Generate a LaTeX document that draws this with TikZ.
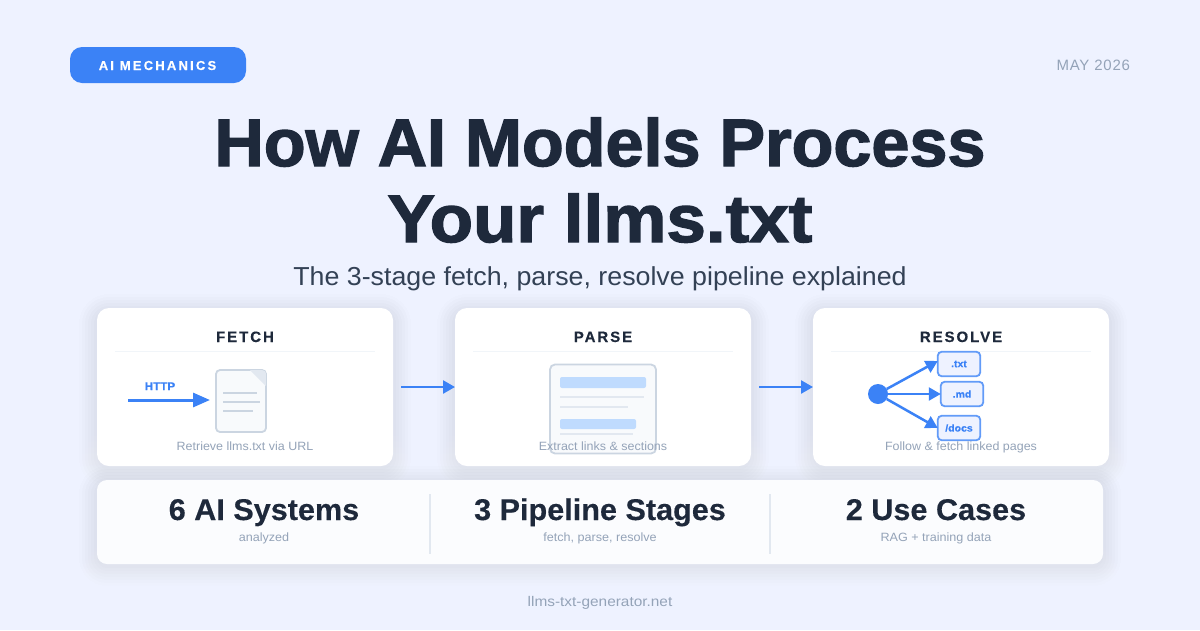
\documentclass[tikz,border=0pt]{standalone}
\usepackage{fontspec}
\setmainfont{Liberation Sans}[BoldFeatures={FakeBold=0.3}]
\newfontfamily\heavy{Liberation Sans}[BoldFeatures={FakeBold=2}]
\usetikzlibrary{arrows.meta}
\definecolor{bgc}{HTML}{EEF2FF}
\definecolor{blue}{HTML}{3B82F6}
\definecolor{ink}{HTML}{1E293B}
\definecolor{subink}{HTML}{334155}
\definecolor{muted}{HTML}{94A3B8}
\definecolor{rule}{HTML}{F1F5F9}
\definecolor{slateline}{HTML}{CBD5E1}
\definecolor{lightline}{HTML}{E2E8F0}
\definecolor{paper}{HTML}{F8FAFC}
\definecolor{barblue}{HTML}{BFDBFE}
\definecolor{shade}{HTML}{263A80}
\definecolor{statfill}{HTML}{FBFCFE}
\newcommand{\fs}[1]{\fontsize{#1}{#1}\selectfont}
\newcommand{\softshadow}[5]{%
  \foreach \g/\o in {18/0.005,15/0.006,12/0.006,9/0.007,6/0.007,3/0.007,0/0.007}{%
    \fill[shade,opacity=\o,rounded corners=#5+\g]
      (#1-\g,#2+4-\g) rectangle (#3+\g,#4+4+\g);}}
\tikzset{
  x=1pt,y=-1pt,
  txt/.style={inner sep=0,outer sep=0,anchor=base},
  title/.style={txt,ink,font=\heavy\bfseries\fs{67}\addfontfeature{FakeStretch=1.02}},
  titlewide/.style={txt,ink,font=\heavy\bfseries\fs{67}\addfontfeature{FakeStretch=1.06}},
  cardhead/.style={txt,ink,font=\bfseries\fs{15}\addfontfeature{LetterSpace=13}},
  caption/.style={txt,muted,font=\fs{12}\addfontfeature{FakeStretch=1.04}},
  stathead/.style={txt,ink,font=\bfseries\fs{30}\addfontfeature{FakeStretch=1.02}},
  statsub/.style={txt,muted,font=\fs{12}\addfontfeature{FakeStretch=1.05}},
  cardbox/.style={draw=none,fill=white,rounded corners=12,minimum width=296,minimum height=158,inner sep=0,outer sep=0},
  headrule/.style={rule,line width=1},
  flow/.style={blue,line width=2.5,-{Triangle[length=12,width=13]}},
  fileline/.style={slateline,line width=1.5},
  parseline/.style={lightline,line width=1.5},
  parsebar/.style={fill=barblue,draw=none,rounded corners=2},
  extbox/.style={draw=blue!80!white,line width=1.8,fill=bgc,rounded corners=4,minimum width=42.5,minimum height=24.5,inner sep=0,outer sep=0,text=blue,font=\bfseries\fs{10}\addfontfeature{FakeStretch=1.05}},
  divider/.style={lightline,line width=1.5},
}
\begin{document}
\begin{tikzpicture}
\useasboundingbox (0,0) rectangle (1200,630);
\fill[bgc] (0,0) rectangle (1200,630);

% badge and date
\node[fill=blue,rounded corners=12,minimum width=176,minimum height=36,inner sep=0,outer sep=0] (badge) at (158,65) {};
\node[txt,white,font=\bfseries\fs{13}\addfontfeature{LetterSpace=17}] (badgetext) at (157.5,70) {AI MECHANICS};
\node[txt,muted,anchor=base east,font=\fs{15}\addfontfeature{LetterSpace=5}] (date) at (1130,70) {MAY 2026};

% title
\node[title] (t1) at (600,166) {How AI Models Process};
\node[titlewide] (t2) at (600,242) {Your llms.txt};
\node[txt,subink,font=\fs{26}\addfontfeature{FakeStretch=1.03}] (subtitle) at (600,285) {The 3-stage fetch, parse, resolve pipeline explained};

% shadows
\softshadow{97}{308}{393}{466}{12}
\softshadow{455}{308}{751}{466}{12}
\softshadow{813}{308}{1109}{466}{12}
\softshadow{97}{480}{1103}{564}{10}

% cards
\node[cardbox] (c1) at (245,387) {};
\node[cardbox] (c2) at (603,387) {};
\node[cardbox] (c3) at (961,387) {};
\node[cardhead] (h1) at (245,342) {FETCH};
\node[cardhead] (h2) at (603,342) {PARSE};
\node[cardhead] (h3) at (961,342) {RESOLVE};
\draw[headrule] (115,351) -- (375,351);
\draw[headrule] (473,351) -- (733,351);
\draw[headrule] (831,351) -- (1091,351);

% connectors between cards
\coordinate (a1) at (401,387);
\coordinate (a2) at (759,387);
\draw[flow] (a1) -- (c2.west);
\draw[flow] (a2) -- (c3.west);

% fetch icon
\node[draw=slateline,fill=paper,line width=1.8,rounded corners=4,minimum width=50,minimum height=62,inner sep=0,outer sep=0] (doc) at (241,401) {};
\fill[lightline] (250,370) -- (262,370) .. controls (265,370) and (266,372) .. (266,374) -- (266,386) -- cycle;
\draw[fileline] (223,393) -- (257,393);
\draw[fileline] (223,402) -- (260,402);
\draw[fileline] (223,411) -- (253,411);
\node[txt,blue,font=\bfseries\fs{11}\addfontfeature{FakeStretch=1.06}] (http) at (160,390) {HTTP};
\coordinate (hs) at (128,400);
\draw[blue,line width=3,-{Triangle[length=17,width=14]},shorten >=6] (hs) -- (doc.west |- hs);
\node[caption] (cap1) at (245,450) {Retrieve llms.txt via URL};

% parse icon
\node[draw=slateline,fill=paper,line width=1.8,rounded corners=5,minimum width=106,minimum height=89,inner sep=0,outer sep=0] (sheet) at (603,409) {};
\fill[parsebar] (560,377) rectangle (646,388);
\draw[parseline] (560,397) -- (644,397);
\draw[parseline] (560,407) -- (628,407);
\fill[parsebar] (560,419) rectangle (636,429);
\draw[parseline] (560,434) -- (633,434);
\node[caption] (cap2) at (603,450) {Extract links \& sections};

% resolve icon
\node[circle,fill=blue,minimum size=20,inner sep=0,outer sep=0] (hub) at (878,394) {};
\node[extbox] (ftxt) at (959,364) {.txt};
\node[extbox] (fmd) at (962,394) {.md};
\node[extbox] (fdocs) at (959,428) {/docs};
\draw[flow] (hub.30) -- (ftxt.172);
\draw[flow] (hub.east) -- (fmd.west);
\draw[flow] (hub.-30) -- (fdocs.west);
\node[caption] (cap3) at (961,450) {Follow \& fetch linked pages};

% stats
\node[fill=statfill,rounded corners=10,minimum width=1006,minimum height=84,inner sep=0,outer sep=0] (stats) at (600,522) {};
\coordinate (d1a) at (430,494); \coordinate (d1b) at (430,554);
\coordinate (d2a) at (770,494); \coordinate (d2b) at (770,554);
\draw[divider] (d1a) -- (d1b);
\draw[divider] (d2a) -- (d2b);
\node[stathead] (s1) at (264,520) {6 AI Systems};
\node[stathead] (s2) at (600,520) {3 Pipeline Stages};
\node[stathead] (s3) at (936,520) {2 Use Cases};
\node[statsub] (u1) at (264,541) {analyzed};
\node[statsub] (u2) at (600,541) {fetch, parse, resolve};
\node[statsub] (u3) at (936,541) {RAG + training data};

% footer
\node[txt,muted,font=\fs{14}\addfontfeature{FakeStretch=1.1}] (foot) at (600,606) {llms-txt-generator.net};
\end{tikzpicture}
\end{document}
